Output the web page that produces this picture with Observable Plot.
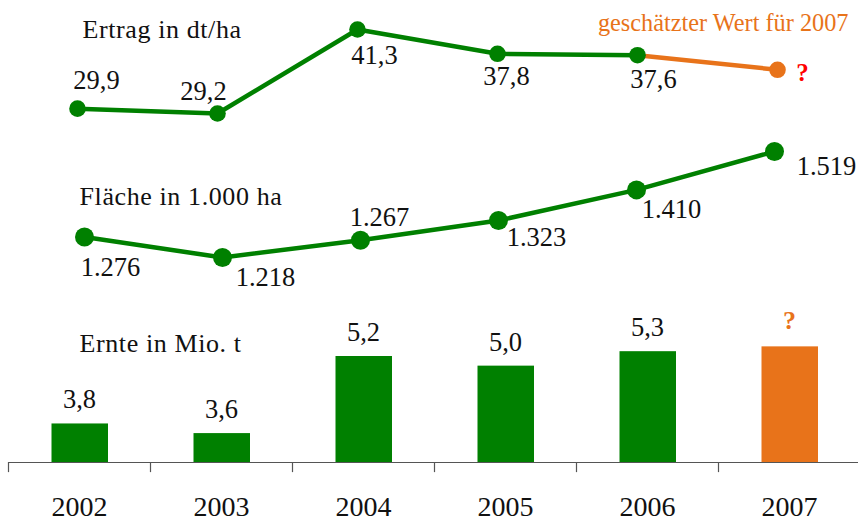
<!DOCTYPE html>
<html><head><meta charset="utf-8">
<script src="https://cdn.jsdelivr.net/npm/d3@7"></script>
<script src="https://cdn.jsdelivr.net/npm/@observablehq/plot@0.6"></script>
<style>
body{margin:0;background:#fff}
#chart{position:relative;width:858px;height:517px;overflow:hidden;background:#fff}
#chart svg{position:absolute;left:0;top:0}
#chart svg, #chart svg text{font-family:'Liberation Serif','Times New Roman',serif !important}
</style></head><body><div id="chart"></div>
<script>
// ---- data ----
const years = ["2002", "2003", "2004", "2005", "2006", "2007"];
const ertrag = [29.9, 29.2, 41.3, 37.8, 37.6, 35.5];      // dt/ha, 2007 estimated
const flaeche = [1276, 1218, 1267, 1323, 1410, 1519];     // 1.000 ha
const ernte = [3.8, 3.6, 5.2, 5.0, 5.3, 5.4];             // Mio. t, 2007 estimated
const estimated = [false, false, false, false, false, true];
const titleErtrag = "Ertrag in dt/ha";
const titleFlaeche = "Fläche in 1.000 ha";
const titleErnte = "Ernte in Mio. t";
const noteEstimate = "geschätzter Wert für 2007";
const unknownLabel = "?";

// ---- styling ----
const GREEN = "#008000", ORANGE = "#E8731A", RED = "#FF0000", INK = "#111";
const FONT = "'Liberation Serif', 'Times New Roman', serif";
const NUM = 26.5;
const ertragOffsets = [[19, -28], [-14, -22], [17, 26], [9, 23], [16, 24], [25, 3]];
const flaecheOffsets = [[26, 30], [43, 20], [19, -23], [38, 17], [35, 20], [52, 15]];

const de = d3.formatLocale({decimal: ",", thousands: ".", grouping: [3], currency: ["", "€"]});
const f1 = de.format(".1f");
const fInt = de.format(",");

const rows = years.map((y, i) => ({year: y, ertrag: ertrag[i], flaeche: flaeche[i], ernte: ernte[i], est: estimated[i]}));
const actual = rows.filter(d => !d.est);
const lastActualIdx = actual.length - 1;
const estSegment = rows.slice(lastActualIdx);

const base = {width: 858, height: 517, margin: 0, style: {fontFamily: FONT, background: "transparent", overflow: "visible"}};
const chart = document.getElementById("chart");

// ---- Ertrag ----
const ertragMarks = [
  Plot.lineY(actual, {x: "year", y: "ertrag", stroke: GREEN, strokeWidth: 4.5}),
  Plot.lineY(estSegment, {x: "year", y: "ertrag", stroke: ORANGE, strokeWidth: 4.5}),
  Plot.dot(rows, {x: "year", y: "ertrag", r: 8.3, fill: d => d.est ? ORANGE : GREEN}),
  ...rows.map((d, i) => Plot.text([d], {
    x: "year", y: "ertrag",
    text: r => r.est ? unknownLabel : f1(r.ertrag),
    dx: ertragOffsets[i][0], dy: ertragOffsets[i][1], fontFamily: FONT,
    fill: d.est ? RED : INK, fontSize: d.est ? 25 : NUM, fontWeight: d.est ? "bold" : "normal"
  })),
  Plot.text([titleErtrag], {text: d => d, frameAnchor: "top-left", textAnchor: "start", lineAnchor: "middle", dx: 82, dy: 29, fontSize: 26, fill: INK, fontFamily: FONT}),
  Plot.text([noteEstimate], {text: d => d, frameAnchor: "top-right", textAnchor: "end", lineAnchor: "middle", dx: -10, dy: 23, fontSize: 24.3, fill: ORANGE, fontFamily: FONT})
];
chart.appendChild(Plot.plot({...base,
  x: {type: "point", domain: years, range: [76, 777], padding: 0, axis: null},
  y: {domain: [29.2, 41.3], range: [113, 29], axis: null},
  marks: ertragMarks}));

// ---- Fläche ----
const flaecheMarks = [
  Plot.lineY(rows, {x: "year", y: "flaeche", stroke: GREEN, strokeWidth: 4.5}),
  Plot.dot(rows, {x: "year", y: "flaeche", r: 9.5, fill: GREEN}),
  ...rows.map((d, i) => Plot.text([d], {
    x: "year", y: "flaeche", text: r => fInt(r.flaeche), fontFamily: FONT,
    dx: flaecheOffsets[i][0], dy: flaecheOffsets[i][1], fill: INK, fontSize: NUM
  })),
  Plot.text([titleFlaeche], {text: d => d, frameAnchor: "top-left", textAnchor: "start", lineAnchor: "middle", dx: 79, dy: 196, fontSize: 26, fill: INK, fontFamily: FONT})
];
chart.appendChild(Plot.plot({...base,
  x: {type: "point", domain: years, range: [83, 775], padding: 0, axis: null},
  y: {domain: [1218, 1519], range: [257, 151], axis: null},
  marks: flaecheMarks}));

// ---- Ernte ----
const ernteMarks = [
  Plot.barY(rows, {x: "year", y1: 3, y2: "ernte", fill: d => d.est ? ORANGE : GREEN, insetLeft: 43.5, insetRight: 42}),
  Plot.ruleY([3], {stroke: "#555", strokeWidth: 1.2}),
  Plot.ruleX(years, {x: d => d, y1: 3, y2: 2.79, dx: -71, stroke: "#555", strokeWidth: 1.2}),
  Plot.text(actual, {x: "year", y: "ernte", text: d => f1(d.ernte), dy: -24, fontSize: NUM, fill: INK, fontFamily: FONT}),
  Plot.text(rows.filter(d => d.est), {x: "year", y: "ernte", text: () => unknownLabel, dy: -26, fontSize: 26, fontWeight: "bold", fill: ORANGE, fontFamily: FONT}),
  Plot.axisX({anchor: "bottom", tickSize: 0, tickPadding: 33.5, fontSize: 28, fill: INK, label: null, fontFamily: FONT}),
  Plot.text([titleErnte], {text: d => d, frameAnchor: "top-left", textAnchor: "start", lineAnchor: "middle", dx: 71, dy: 343, fontSize: 26, fill: INK, fontFamily: FONT})
];
chart.appendChild(Plot.plot({...base, marginLeft: 8, marginRight: 0, marginTop: 0, marginBottom: 55,
  x: {type: "band", domain: years, range: [8, 860], padding: 0, label: null},
  y: {domain: [3, 5.2], range: [462, 356], axis: null},
  marks: ernteMarks}));

// slightly wider tracking for the three panel titles, as in the original
const titleSet = new Set([titleErtrag, titleFlaeche, titleErnte]);
d3.select(chart).selectAll("text").filter(function() { return titleSet.has(this.textContent); })
  .style("letter-spacing", "0.6px");
</script></body></html>
